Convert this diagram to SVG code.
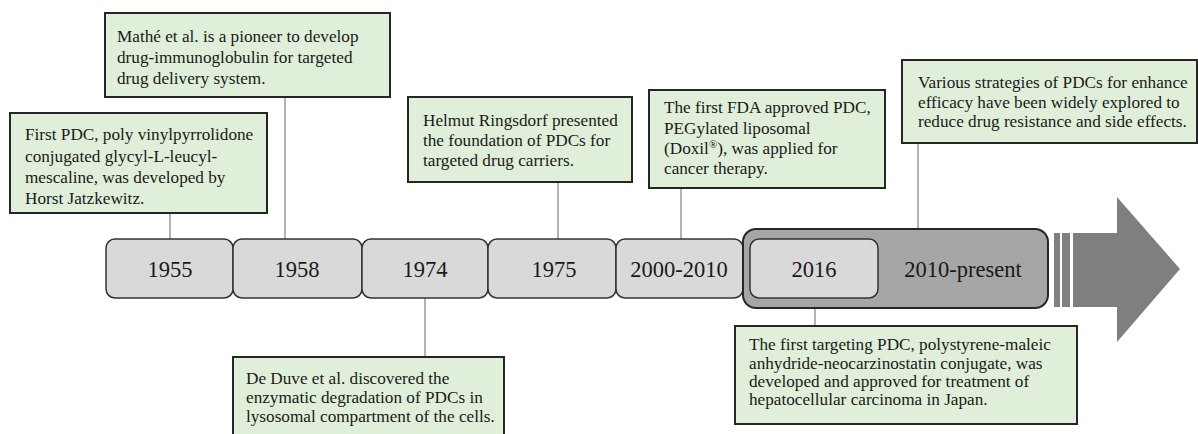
<svg xmlns="http://www.w3.org/2000/svg" width="1198" height="434" viewBox="0 0 1198 434">
<style>
.note{fill:#e0efd9;stroke:#262626;stroke-width:2}
.yr{fill:#d9d9d9;stroke:#333;stroke-width:1.5}
.t{font-family:"Liberation Serif","Times New Roman",serif;font-size:17.2px;fill:#1a1a1a}
.y{font-family:"Liberation Serif","Times New Roman",serif;font-size:22.5px;fill:#1a1a1a;text-anchor:middle}
.c{stroke:#808080;stroke-width:1.2;fill:none}
</style>
<rect width="1198" height="434" fill="#fff"/>
<g id="connectors">
<line class="c" x1="170" y1="213" x2="170" y2="239"/>
<line class="c" x1="285" y1="97" x2="285" y2="239"/>
<line class="c" x1="425" y1="298" x2="425" y2="357"/>
<line class="c" x1="558" y1="182" x2="558" y2="239"/>
<line class="c" x1="681" y1="188" x2="681" y2="239"/>
<line class="c" x1="815" y1="298" x2="815" y2="326"/>
<line class="c" x1="918" y1="143" x2="918" y2="229"/>
</g>
<g id="arrow">
<rect x="1054" y="233" width="6" height="74" fill="#808080"/>
<rect x="1062" y="233" width="8" height="74" fill="#808080"/>
<polygon points="1073,233 1117,233 1117,197 1180,269 1117,342 1117,307 1073,307" fill="#7f7f7f"/>
</g>
<g id="y1955"><rect class="yr" x="106" y="239" width="127" height="59" rx="9"/><text class="y" x="170" y="277">1955</text></g>
<g id="y1958"><rect class="yr" x="233" y="239" width="129" height="59" rx="9"/><text class="y" x="297" y="277">1958</text></g>
<g id="y1974"><rect class="yr" x="362" y="239" width="126" height="59" rx="9"/><text class="y" x="425" y="277">1974</text></g>
<g id="y1975"><rect class="yr" x="488" y="239" width="128" height="59" rx="9"/><text class="y" x="554" y="277">1975</text></g>
<g id="y2000"><rect class="yr" x="616" y="239" width="127" height="59" rx="9"/><text class="y" x="679" y="277">2000-2010</text></g>
<g id="y2010present"><rect x="743" y="229" width="305" height="79" rx="13" fill="#a6a6a6" stroke="#262626" stroke-width="2"/><text class="y" x="963" y="277">2010-present</text></g>
<g id="y2016"><rect class="yr" x="750" y="239" width="128" height="59" rx="9"/><text class="y" x="814" y="277">2016</text></g>
<g id="n1955"><rect class="note" x="10" y="113" width="257" height="100"/>
<text class="t" x="25" y="140">First PDC, poly vinylpyrrolidone</text>
<text class="t" x="25" y="161.5">conjugated glycyl-L-leucyl-</text>
<text class="t" x="25" y="183">mescaline, was developed by</text>
<text class="t" x="25" y="204">Horst Jatzkewitz.</text></g>
<g id="n1958"><rect class="note" x="105" y="13" width="285" height="84"/>
<text class="t" x="117" y="42">Mathé et al. is a pioneer to develop</text>
<text class="t" x="117" y="63">drug-immunoglobulin for targeted</text>
<text class="t" x="117" y="84">drug delivery system.</text></g>
<g id="n1975"><rect class="note" x="408" y="97" width="224" height="85"/>
<text class="t" x="423" y="126">Helmut Ringsdorf presented</text>
<text class="t" x="423" y="146">the foundation of PDCs for</text>
<text class="t" x="423" y="166">targeted drug carriers.</text></g>
<g id="n2000"><rect class="note" x="649" y="90" width="236" height="98"/>
<text class="t" x="664" y="113">The first FDA approved PDC,</text>
<text class="t" x="664" y="133.5">PEGylated liposomal</text>
<text class="t" x="664" y="154">(Doxil<tspan font-size="11" dy="-6">®</tspan><tspan dy="6">), was applied for</tspan></text>
<text class="t" x="664" y="174">cancer therapy.</text></g>
<g id="npresent"><rect class="note" x="902" y="60" width="295" height="83"/>
<text class="t" x="918" y="87.5">Various strategies of PDCs for enhance</text>
<text class="t" x="918" y="107.5">efficacy have been widely explored to</text>
<text class="t" x="918" y="127">reduce drug resistance and side effects.</text></g>
<g id="n1974"><rect class="note" x="233" y="357" width="271" height="90"/>
<text class="t" x="246" y="384">De Duve et al. discovered the</text>
<text class="t" x="246" y="403">enzymatic degradation of PDCs in</text>
<text class="t" x="246" y="422">lysosomal compartment of the cells.</text></g>
<g id="n2016"><rect class="note" x="735" y="326" width="342" height="98"/>
<text class="t" x="749" y="350">The first targeting PDC, polystyrene-maleic</text>
<text class="t" x="749" y="368.5">anhydride-neocarzinostatin conjugate, was</text>
<text class="t" x="749" y="387">developed and approved for treatment of</text>
<text class="t" x="749" y="405">hepatocellular carcinoma in Japan.</text></g>
</svg>
